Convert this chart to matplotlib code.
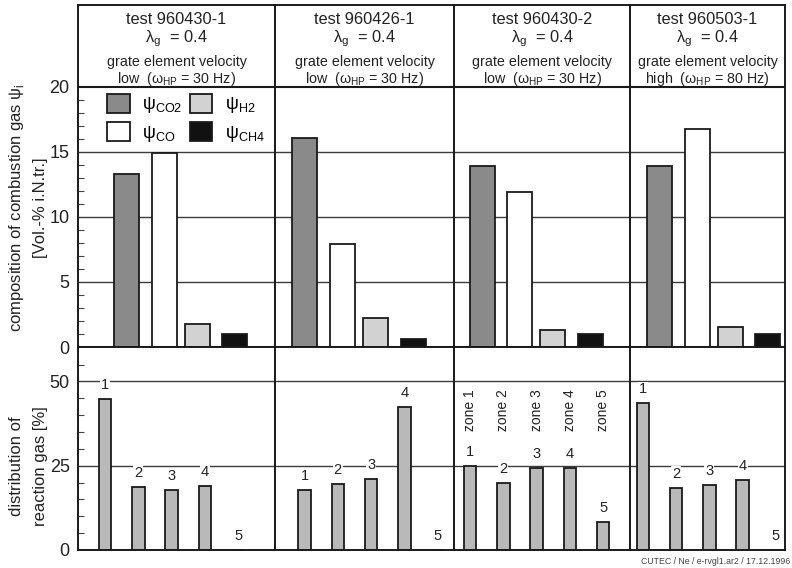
import matplotlib.pyplot as plt
from matplotlib.patches import Patch

plt.rcParams['font.family'] = ['Liberation Sans', 'DejaVu Sans']
plt.rcParams['mathtext.fontset'] = 'custom'
plt.rcParams['mathtext.rm'] = 'Liberation Sans'

# test runs (one column each)
tests = ["960430-1", "960426-1", "960430-2", "960503-1"]
speed = ["low", "low", "low", "high"]
freq_hz = [30, 30, 30, 80]
lambda_g = 0.4

# composition of combustion gas [Vol.-% i.N.tr.]
psi_co2 = [13.3, 16.1, 13.9, 13.9]
psi_co = [14.9, 7.9, 11.9, 16.8]
psi_h2 = [1.8, 2.2, 1.3, 1.5]
psi_ch4 = [1.0, 0.65, 1.0, 1.0]

# distribution of reaction gas over zones 1..5 [%]
zones = ["1", "2", "3", "4", "5"]
dist = [[44.8, 18.8, 17.9, 18.9, 0.0],
        [17.8, 19.6, 21.2, 42.5, 0.0],
        [25.0, 19.8, 24.3, 24.3, 8.2],
        [43.5, 18.4, 19.2, 20.9, 0.0]]

gases = [r"ψ$_\mathregular{CO2}$", r"ψ$_\mathregular{CO}$",
         r"ψ$_\mathregular{H2}$", r"ψ$_\mathregular{CH4}$"]
gas_colors = ["#8a8a8a", "#ffffff", "#d2d2d2", "#111111"]
dist_color = "#b9b9b9"
edge = "#1a1a1a"
grid_c = "#3c3c3c"

# layout in pixels of the 792x568 figure
W, H = 792, 568
col_x = [78, 275, 454, 630, 785]
top_y = (5, 347)
bot_y = (347, 550)
top_slots = [0, 1, 1.875, 2.875]
top_slot_px = 37.7
top_first_px = [48.5, 29.8, 28.2, 29.5]
bot_slot_px = 33.3
bot_first_px = [27, 29.5, 16, 12.8]


def rect(x0, x1, y0, y1):
    return [x0 / W, 1 - y1 / H, (x1 - x0) / W, (y1 - y0) / H]


def style(ax, first):
    for s in ax.spines.values():
        s.set_linewidth(1.4)
        s.set_color(edge)
    ax.set_xticks([])
    ax.tick_params(axis='y', which='major', length=0, pad=6,
                   labelsize=13, colors='#222222')
    ax.tick_params(axis='y', which='minor', direction='in', length=4,
                   width=0.8, color='#444444')
    if not first:
        ax.tick_params(axis='y', which='both', left=False, labelleft=False)


fig = plt.figure(figsize=(7.92, 5.68), dpi=100)

for c in range(4):
    x0, x1 = col_x[c], col_x[c + 1]
    wpx = x1 - x0

    # --- top panel incl. header ---
    ax = fig.add_axes(rect(x0, x1, *top_y))
    ax.set_xlim(-top_first_px[c] / top_slot_px,
                (wpx - top_first_px[c]) / top_slot_px)
    ax.set_ylim(0, 26.3)
    ax.set_yticks([0, 5, 10, 15, 20])
    ax.set_yticks(range(1, 20), minor=True)
    for g in [5, 10, 15]:
        ax.axhline(g, color=grid_c, lw=1.0, zorder=0.5)
    ax.axhline(20, color=edge, lw=1.5, zorder=0.5)
    vals = [psi_co2[c], psi_co[c], psi_h2[c], psi_ch4[c]]
    ax.bar(top_slots, vals, width=0.663, color=gas_colors,
           edgecolor=edge, linewidth=1.3, zorder=2)
    style(ax, c == 0)

    def hy(py):
        return 1 - (py - top_y[0]) / (top_y[1] - top_y[0])

    ax.text(0.5, hy(20), f"test {tests[c]}", transform=ax.transAxes,
            ha='center', va='center', fontsize=11.8, color='#222222')
    ax.text(0.5, hy(39), r"λ$_\mathregular{g}$  = " + f"{lambda_g}",
            transform=ax.transAxes, ha='center', va='center',
            fontsize=11.8, color='#222222')
    ax.text(0.5, hy(62), "grate element velocity", transform=ax.transAxes,
            ha='center', va='center', fontsize=10.3, color='#222222')
    ax.text(0.5, hy(79),
            f"{speed[c]}  (ω" + r"$_\mathregular{HP}$" + f" = {freq_hz[c]} Hz)",
            transform=ax.transAxes, ha='center', va='center',
            fontsize=10.3, color='#222222')

    if c == 0:
        handles = [Patch(facecolor=gas_colors[i], edgecolor=edge, lw=1.3)
                   for i in range(4)]
        ax.legend(handles, gases, ncol=2, frameon=False, fontsize=13,
                  loc='upper left',
                  bbox_to_anchor=((107 - x0) / wpx, hy(94)),
                  borderpad=0, borderaxespad=0, handlelength=1.25,
                  handleheight=1.2, handletextpad=0.7, labelspacing=0.38,
                  columnspacing=0.4)

    # --- bottom panel ---
    bx = fig.add_axes(rect(x0, x1, *bot_y))
    bx.set_xlim(-bot_first_px[c] / bot_slot_px,
                (wpx - bot_first_px[c]) / bot_slot_px)
    bx.set_ylim(0, 60.2)
    bx.set_yticks([0, 25, 50])
    bx.set_yticks([5, 10, 15, 20, 30, 35, 40, 45, 55], minor=True)
    for g in [25, 50]:
        bx.axhline(g, color=grid_c, lw=1.0, zorder=0.5)
    pos = list(range(len(zones)))
    bx.bar(pos, dist[c], width=0.375, color=dist_color,
           edgecolor=edge, linewidth=1.3, zorder=2)
    for i, v in enumerate(dist[c]):
        bx.annotate(zones[i], (pos[i], v), xytext=(0, 10),
                    textcoords='offset points', ha='center', va='center',
                    fontsize=10.5, color='#222222', zorder=3,
                    bbox=dict(facecolor='white', edgecolor='none', pad=0.6))
    if c == 2:
        for i in pos:
            bx.text(pos[i], 41.5, f"zone {zones[i]}", rotation=90,
                    ha='center', va='center', fontsize=10, color='#222222')
    style(bx, c == 0)

# axis titles
fig.text(17 / W, 1 - 208 / H, r"composition of combustion gas ψ$_\mathregular{i}$",
         rotation=90, ha='center', va='center', fontsize=12, color='#222222')
fig.text(40 / W, 1 - 208 / H, "[Vol.-% i.N.tr.]",
         rotation=90, ha='center', va='center', fontsize=12, color='#222222')
fig.text(17 / W, 1 - 466 / H, "distribution of",
         rotation=90, ha='center', va='center', fontsize=12, color='#222222')
fig.text(40 / W, 1 - 466 / H, "reaction gas [%]",
         rotation=90, ha='center', va='center', fontsize=12, color='#222222')

fig.text(790 / W, 1 - 561 / H, "CUTEC / Ne / e-rvgl1.ar2 / 17.12.1996",
         ha='right', va='center', fontsize=6.3, color='#444444')

fig.savefig("out.png", dpi=100)
